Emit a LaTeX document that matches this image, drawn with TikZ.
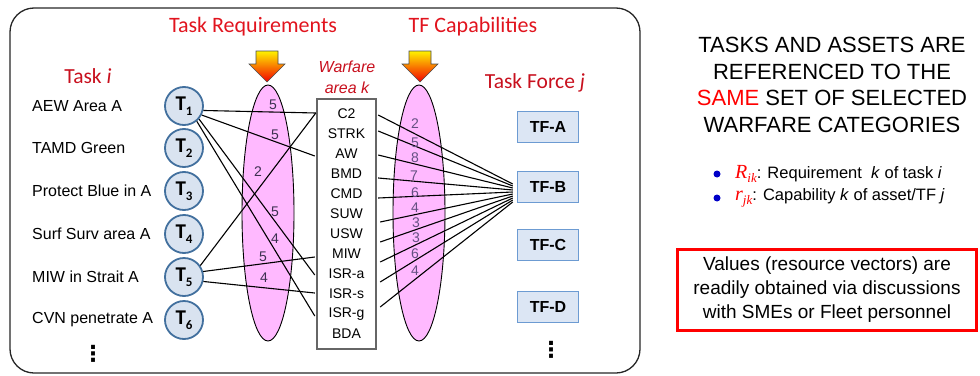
\documentclass[tikz,border=0pt]{standalone}
\usepackage{fontspec}
\setmainfont{Liberation Sans}
\newfontfamily\calfont{Carlito}
\newfontfamily\timesf{Liberation Serif}
\newfontfamily\dejavu{DejaVu Sans}
\definecolor{circF}{RGB}{217,227,240}
\definecolor{circB}{RGB}{66,112,158}
\definecolor{tfF}{RGB}{220,230,244}
\definecolor{tfB}{RGB}{108,155,210}
\definecolor{lobeF}{RGB}{255,185,255}
\definecolor{titleRed}{RGB}{225,20,30}
\definecolor{darkRed}{RGB}{200,16,30}
\definecolor{numLC}{RGB}{60,48,80}
\definecolor{numRC}{RGB}{100,80,130}
\definecolor{bulletBlue}{RGB}{0,0,200}
\newcommand\fsz[2]{\fontsize{#1}{#2}\selectfont}
\begin{document}
\begin{tikzpicture}[x=1pt,y=-1pt,
  tcirc/.style={circle, draw=circB, fill=circF, line width=1.8pt, minimum size=38pt, inner sep=0pt, font=\calfont\bfseries\fsz{21}{21}},
  tasklabel/.style={anchor=west, inner sep=0pt, font=\fsz{16}{16}},
  wrow/.style={minimum width=59pt, minimum height=20pt, inner sep=0pt, font=\fsz{14}{14}},
  tfbox/.style={draw=tfB, fill=tfF, line width=1.5pt, minimum width=61pt, minimum height=31pt, inner sep=0pt, font=\bfseries\fsz{16}{16}},
  link/.style={black, line width=1.1pt},
  numL/.style={inner sep=0pt, text=numLC, font=\fsz{14}{14}},
  numR/.style={inner sep=0pt, text=numRC, font=\fsz{14}{14}},
  redtitle/.style={inner sep=0pt, text=titleRed, font=\calfont\fsz{22}{22}},
  bigarrow/.style={draw=black!70, line width=0.6pt, top color=yellow!90!orange, bottom color=red!95!black},
  lobe/.style={draw=black, line width=0.9pt, fill=lobeF},
  vdotsnode/.style={inner sep=0pt, font=\dejavu\bfseries\fsz{22}{22}}
]
\useasboundingbox (0,0) rectangle (980,375);

% frame
\draw[line width=1.3pt, black!85, rounded corners=24pt] (10,8) rectangle (640,373);

% titles
\node[redtitle] (treq) at (253,27) {Task Requirements};
\node[redtitle] (tcap) at (473,27) {TF Capabilities};
\node[inner sep=0pt, text=darkRed, font=\calfont\fsz{21.5}{21.5}] (taski) at (88,76) {Task \textit{i}};
\node[inner sep=0pt, text=darkRed, font=\calfont\fsz{21.5}{21.5}] (tfj) at (535,83) {Task Force \textit{j}};
\node[inner sep=0pt, text=darkRed, font=\itshape\fsz{16}{21}, align=center] (warea) at (347,77.5) {Warfare\\area k};

% lobes
\draw[lobe] (268,213) ellipse [x radius=26, y radius=128];
\draw[lobe] (419,213) ellipse [x radius=26, y radius=128];

% arrows
\path[bigarrow] (256,51) -- (278,51) -- (278,64) -- (285,64) -- (267,82) -- (249,64) -- (256,64) -- cycle;
\path[bigarrow] (409,51) -- (431,51) -- (431,64) -- (438,64) -- (420,82) -- (402,64) -- (409,64) -- cycle;

% task labels and circles
\node[tasklabel] (l1) at (32,106) {AEW Area A};
\node[tasklabel] (l2) at (32,148) {TAMD Green};
\node[tasklabel] (l3) at (32,191) {Protect Blue in A};
\node[tasklabel] (l4) at (32,234) {Surf Surv area A};
\node[tasklabel] (l5) at (32,277) {MIW in Strait A};
\node[tasklabel] (l6) at (32,320) {CVN penetrate A};
\foreach \i/\yy in {1/106,2/148,3/191,4/234,5/277,6/320}{
  \node[tcirc] (t\i) at (184,\yy) {T\raisebox{-5pt}{\fsz{13}{13}\i}};
}
\node[vdotsnode] (dotsL) at (93,354) {⋮};

% warfare box
\draw[line width=1.4pt, black!60] (317,99) rectangle (376,349);
\foreach \n/\txt/\k in {C2/C2/0,STRK/STRK/1,AW/AW/2,BMD/BMD/3,CMD/CMD/4,SUW/SUW/5,USW/USW/6,MIW/MIW/7,ISRa/ISR-a/8,ISRs/ISR-s/9,ISRg/ISR-g/10,BDA/BDA/11}{
  \node[wrow] (w\n) at (346.5,114+20*\k) {\txt};
}

% TF boxes
\node[tfbox] (tfA) at (548,127) {TF-A};
\node[tfbox] (tfB) at (548,187) {TF-B};
\node[tfbox] (tfC) at (548,245) {TF-C};
\node[tfbox] (tfD) at (548,307) {TF-D};
\node[vdotsnode] (dotsR) at (551,350) {⋮};

% left links
\draw[link] (t1.-13) -- ([xshift=-1pt,yshift=1pt]wC2.west);
\draw[link] (t1.-27) -- ([xshift=-2pt,yshift=-2pt]wAW.west);
\draw[link] (t1.-41) -- ([xshift=-2pt,yshift=-1pt]wISRa.west);
\draw[link] (t1.-50) -- ([xshift=-2pt,yshift=-2pt]wISRg.west);
\draw[link] (t5.35) -- ([xshift=-1pt,yshift=1pt]wC2.west);
\draw[link] (t5.16) -- ([xshift=-2pt,yshift=-3pt]wMIW.west);
\draw[link] (t5.-13) -- ([xshift=-2pt,yshift=1pt]wISRs.west);

% right links
\draw[link] ([xshift=2pt,yshift=-1pt]wC2.east) -- ([xshift=-4pt,yshift=3pt]tfB.west);
\draw[link] ([xshift=2pt,yshift=3pt]wSTRK.east) -- ([xshift=-4pt,yshift=1pt]tfB.west);
\draw[link] ([xshift=2pt,yshift=-1pt]wAW.east) -- ([xshift=-4pt,yshift=-1pt]tfB.west);
\draw[link] ([xshift=2pt,yshift=-4pt]wBMD.east) -- ([xshift=-4pt,yshift=-3pt]tfB.west);
\draw[link] ([xshift=2pt,yshift=-4pt]wCMD.east) -- ([xshift=-4pt,yshift=-5pt]tfB.west);
\draw[link] ([xshift=4pt,yshift=-8pt]wSUW.east) -- ([xshift=-4pt,yshift=-7pt]tfB.west);
\draw[link] ([xshift=4pt,yshift=-8pt]wUSW.east) -- ([xshift=-4pt,yshift=-9pt]tfB.west);
\draw[link] ([xshift=4pt,yshift=-8pt]wMIW.east) -- ([xshift=-4pt,yshift=-11pt]tfB.west);
\draw[link] ([xshift=4pt,yshift=-8pt]wISRa.east) -- ([xshift=-4pt,yshift=-13pt]tfB.west);
\draw[link] ([xshift=4pt,yshift=7pt]wISRg.east) -- ([xshift=-4pt,yshift=-15pt]tfB.west);

% numbers left
\node[numL] (nl1) at (273,105) {5};
\node[numL] (nl2) at (275,135) {5};
\node[numL] (nl3) at (258,172) {2};
\node[numL] (nl4) at (275,212) {5};
\node[numL] (nl5) at (275,239) {4};
\node[numL] (nl6) at (263,257) {5};
\node[numL] (nl7) at (264,278) {4};
% numbers right
\node[numR] (nr1) at (415,124) {2};
\node[numR] (nr2) at (415,143) {5};
\node[numR] (nr3) at (415,158) {8};
\node[numR] (nr4) at (414,176) {7};
\node[numR] (nr5) at (415,193) {6};
\node[numR] (nr6) at (415,208) {4};
\node[numR] (nr7) at (416,223) {3};
\node[numR] (nr8) at (416,238) {3};
\node[numR] (nr9) at (415,254) {6};
\node[numR] (nr10) at (415,271) {4};

% right panel
\node[inner sep=0pt, align=center, font=\fsz{22}{26.7}] (head) at (832,85)
  {TASKS AND ASSETS ARE\\REFERENCED TO THE\\{\color{red}SAME} SET OF SELECTED\\WARFARE CATEGORIES};
\fill[bulletBlue] (717,174) circle (3.5pt);
\fill[bulletBlue] (717,198) circle (3.5pt);
\node[anchor=west, inner sep=0pt, font=\fsz{16.5}{17}] (b1) at (735,174)
  {{\timesf\itshape\color{red}\fsz{20}{20}R\raisebox{-4pt}{\fsz{13}{13}ik}}: Requirement \ \textit{k} of task \textit{i}};
\node[anchor=west, inner sep=0pt, font=\fsz{16.5}{17}] (b2) at (735,198)
  {{\timesf\itshape\color{red}\fsz{20}{20}r\raisebox{-4pt}{\fsz{13}{13}jk}}: Capability \textit{k} of asset/TF \textit{j}};
\node[draw=red, line width=3pt, minimum width=299pt, minimum height=81pt, inner sep=0pt, align=center, font=\fsz{19}{24}] (vals) at (827,290)
  {Values (resource vectors) are\\readily obtained via discussions\\with SMEs or Fleet personnel};
\end{tikzpicture}
\end{document}
